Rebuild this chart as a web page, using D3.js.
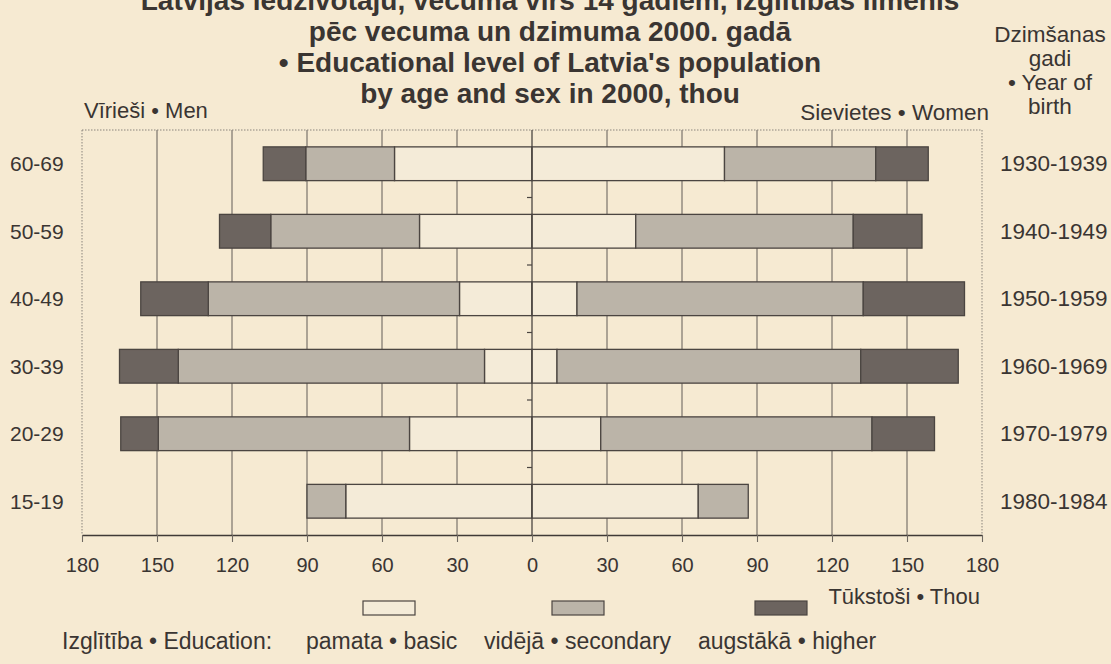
<!DOCTYPE html>
<html>
<head>
<meta charset="utf-8">
<script src="https://cdn.jsdelivr.net/npm/d3@7"></script>
<style>
  html, body { margin: 0; padding: 0; background: #f6ead2; }
  svg { display: block; }
  text { font-family: "Liberation Sans", Arial, Helvetica, sans-serif; fill: #3a3532; }
</style>
</head>
<body>
<svg id="chart" width="1111" height="664"></svg>
<script>
// ---- data (thousands) ----
const ages = ["60-69", "50-59", "40-49", "30-39", "20-29", "15-19"];
const birthYears = ["1930-1939", "1940-1949", "1950-1959", "1960-1969", "1970-1979", "1980-1984"];
const menBasic = [55, 45, 29, 19, 49, 74.5];
const menSecondary = [35.5, 59.5, 100.5, 122.5, 100.5, 15.5];
const menHigher = [17, 20.5, 27, 23.5, 15, 0];
const womenBasic = [77, 41.5, 18, 10, 27.5, 66.5];
const womenSecondary = [60.5, 87, 114.5, 121.5, 108.5, 20];
const womenHigher = [21, 27.5, 40.5, 39, 25, 0];
const xTickValues = [-180, -150, -120, -90, -60, -30, 0, 30, 60, 90, 120, 150, 180];
const levels = ["basic", "secondary", "higher"];
const levelNames = ["pamata \u2022 basic", "vid\u0113j\u0101 \u2022 secondary", "augst\u0101k\u0101 \u2022  higher"];
const titleLines = [
  "Latvijas iedz\u012Bvot\u0101ju, vecum\u0101 virs 14 gadiem, izgl\u012Bt\u012Bbas l\u012Bmenis",
  "p\u0113c vecuma un dzimuma 2000. gad\u0101",
  "\u2022 Educational level of Latvia's population",
  "by age and sex in 2000, thou"
];
const birthHeader = ["Dzim\u0161anas", "gadi", "\u2022 Year of", "birth"];

const colors = { basic: "#f4ebd8", secondary: "#bbb4a8", higher: "#6c645f" };

const svg = d3.select("#chart");
const pLeft = 82, pRight = 982, pTop = 130, pBottom = 535;

const x = d3.scaleLinear().domain([-180, 180]).range([pLeft, pRight]);
const y = d3.scaleBand().domain(ages).range([pTop, pBottom]).paddingInner(0.5).paddingOuter(0.25);

// ---- grid ----
const grid = svg.append("g");
grid.selectAll("line.v")
  .data(xTickValues.filter(v => Math.abs(v) < 180 && v !== 0))
  .join("line")
  .attr("x1", d => x(d)).attr("x2", d => x(d))
  .attr("y1", pTop).attr("y2", pBottom)
  .attr("stroke", "#6e6862").attr("stroke-width", 1.1);

// dotted frame (top, left, right)
const frame = svg.append("g").attr("stroke", "#8a847c").attr("stroke-width", 1).attr("stroke-dasharray", "1.5,1.5").attr("fill", "none");
frame.append("line").attr("x1", pLeft).attr("x2", pRight).attr("y1", pTop).attr("y2", pTop);
frame.append("line").attr("x1", pLeft).attr("x2", pLeft).attr("y1", pTop).attr("y2", pBottom);
frame.append("line").attr("x1", pRight).attr("x2", pRight).attr("y1", pTop).attr("y2", pBottom);

// ---- bars ----
const rows = ages.map((a, i) => ({
  age: a,
  men: [menBasic[i], menSecondary[i], menHigher[i]],
  women: [womenBasic[i], womenSecondary[i], womenHigher[i]]
}));

const segs = [];
rows.forEach(r => {
  let acc = 0;
  r.men.forEach((v, k) => { if (v > 0) segs.push({ age: r.age, level: levels[k], x0: -(acc + v), x1: -acc }); acc += v; });
  acc = 0;
  r.women.forEach((v, k) => { if (v > 0) segs.push({ age: r.age, level: levels[k], x0: acc, x1: acc + v }); acc += v; });
});

svg.append("g").selectAll("rect")
  .data(segs)
  .join("rect")
  .attr("x", d => x(d.x0))
  .attr("width", d => x(d.x1) - x(d.x0))
  .attr("y", d => y(d.age))
  .attr("height", y.bandwidth())
  .attr("fill", d => colors[d.level])
  .attr("stroke", "#4b4541")
  .attr("stroke-width", 1.3);

// ---- zero axis with small ticks at band boundaries ----
svg.append("line").attr("x1", x(0)).attr("x2", x(0)).attr("y1", pTop).attr("y2", pBottom)
  .attr("stroke", "#4b4541").attr("stroke-width", 1.3);
const boundaries = ages.slice(1).map(a => y(a) - y.step() * y.paddingInner() / 2);
svg.append("g").selectAll("line").data(boundaries).join("line")
  .attr("x1", x(0) - 5).attr("x2", x(0)).attr("y1", d => d).attr("y2", d => d)
  .attr("stroke", "#4b4541").attr("stroke-width", 1.2);

// ---- bottom axis ----
const xAxis = d3.axisBottom(x).tickValues(xTickValues).tickFormat(d => Math.abs(d)).tickSize(7).tickSizeOuter(0);
const gx = svg.append("g").attr("transform", `translate(0,${pBottom})`).call(xAxis);
gx.select(".domain").attr("stroke", "#3f3a37").attr("stroke-width", 1.4);
gx.selectAll(".tick line").attr("stroke", "#6e6862").attr("stroke-width", 1.1);
gx.selectAll(".tick text").attr("y", 37).attr("dy", 0)
  .style("font-size", "20px").style("font-family", "'Liberation Sans', Arial, sans-serif").attr("fill", "#3a3532");

// ---- row labels ----
svg.append("g").selectAll("text").data(ages).join("text")
  .attr("x", 10).attr("y", d => y(d) + y.bandwidth() / 2 + 7.5)
  .style("font-size", "21px").text(d => d);
svg.append("g").selectAll("text").data(ages).join("text")
  .attr("x", 1000).attr("y", d => y(d) + y.bandwidth() / 2 + 7.5)
  .style("font-size", "22.5px").text((d, i) => birthYears[i]);

// ---- titles ----
svg.append("g").selectAll("text").data(titleLines).join("text")
  .attr("x", 550).attr("y", (d, i) => 10 + i * 31)
  .attr("text-anchor", "middle")
  .style("font-size", "28px").style("font-weight", "bold").attr("fill", "#3b3633")
  .text(d => d);

svg.append("g").selectAll("text").data(birthHeader).join("text")
  .attr("x", 1050).attr("y", (d, i) => 42 + i * 24)
  .attr("text-anchor", "middle")
  .style("font-size", "22.5px")
  .text(d => d);

svg.append("text").attr("x", 84).attr("y", 118).style("font-size", "22px").text("V\u012Brie\u0161i \u2022  Men");
svg.append("text").attr("x", 989).attr("y", 120).attr("text-anchor", "end").style("font-size", "22.5px").text("Sievietes \u2022 Women");
svg.append("text").attr("x", 980).attr("y", 604).attr("text-anchor", "end").style("font-size", "22px").text("T\u016Bksto\u0161i \u2022 Thou");

// ---- legend ----
const legendBoxX = [363, 552, 755];
svg.append("g").selectAll("rect").data(levels).join("rect")
  .attr("x", (d, i) => legendBoxX[i]).attr("y", 601)
  .attr("width", 52).attr("height", 14)
  .attr("fill", d => colors[d]).attr("stroke", "#4b4541").attr("stroke-width", 1.2);

svg.append("text").attr("x", 62).attr("y", 649).style("font-size", "23px").text("Izgl\u012Bt\u012Bba \u2022 Education:");
const legendTextX = [306, 484, 698];
svg.append("g").selectAll("text").data(levelNames).join("text")
  .attr("x", (d, i) => legendTextX[i]).attr("y", 649)
  .style("font-size", "23px").text(d => d);
</script>
</body>
</html>
